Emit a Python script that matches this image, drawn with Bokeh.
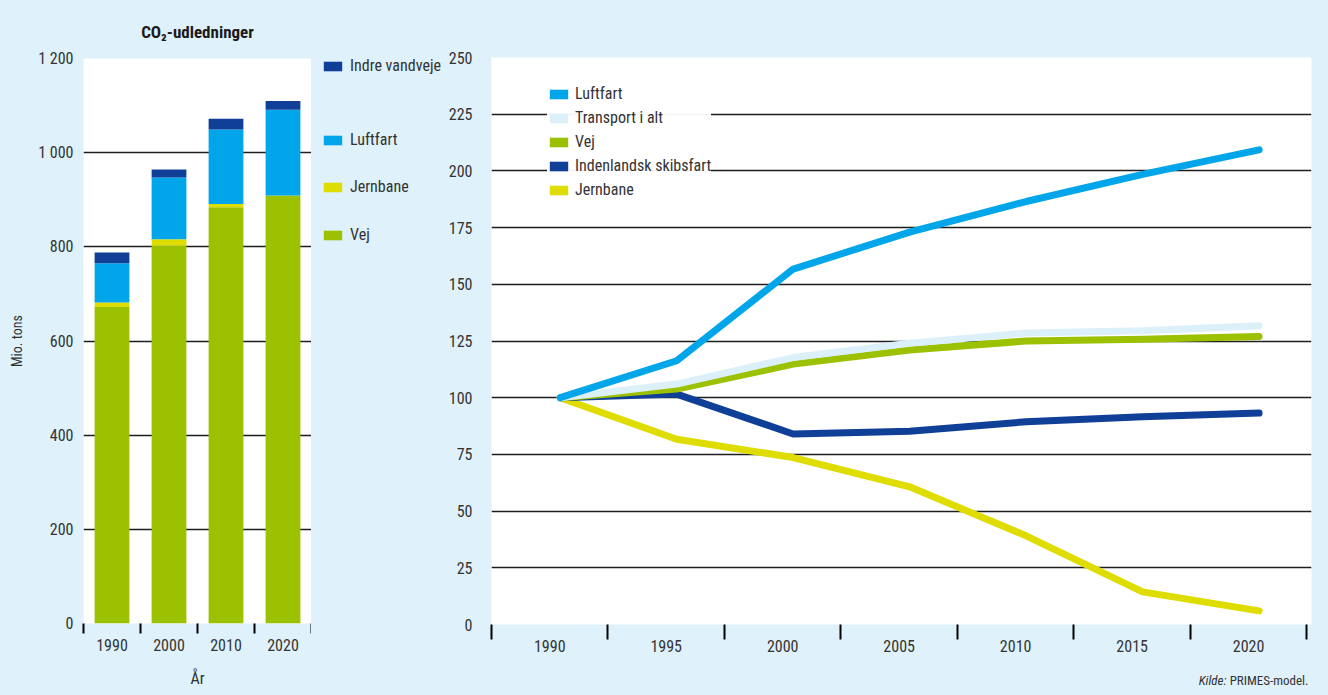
from bokeh.plotting import figure
from bokeh.models import (Range1d, FixedTicker, Legend, LegendItem, Label,
                          ColumnDataSource)
from bokeh.layouts import row, column
from bokeh.embed import file_html
from bokeh.resources import INLINE
from bokeh.transform import dodge

# ---------------- data ----------------
bar_years = [1990, 2000, 2010, 2020]
vej = [672, 803, 884, 909]
jernbane = [10, 13, 7, 0]
luftfart = [83, 131, 158, 182]
indre_vandveje = [23, 17, 23, 19]
bar_y_ticks = [0, 200, 400, 600, 800, 1000, 1200]
bar_y_labels = ["0", "200", "400", "600", "800", "1 000", "1 200"]
bar_grid_ticks = [200, 400, 600, 800, 1000]
bar_sep_ticks = [1985, 1995, 2005, 2015, 2025]

line_years = [1990, 1995, 2000, 2005, 2010, 2015, 2020]
idx_luftfart = [100, 116.3, 156.7, 173, 186.5, 198.5, 209.3]
idx_transport = [100, 106, 117.7, 124, 128.5, 129.5, 131.7]
idx_vej = [100, 103.8, 114.8, 121, 125, 125.8, 127]
idx_skibsfart = [100, 101.6, 84, 85.2, 89.4, 91.6, 93.2]
idx_jernbane = [100, 81.7, 73.6, 60.7, 39.1, 14.4, 6.0]
line_y_ticks = [0, 25, 50, 75, 100, 125, 150, 175, 200, 225, 250]
line_grid_ticks = [25, 50, 75, 100, 125, 150, 175, 200, 225]
line_sep_ticks = [1987.5, 1992.5, 1997.5, 2002.5, 2007.5, 2012.5, 2017.5, 2022.5]

# ---------------- style ----------------
BG = "#dff1fb"
FONT = "'Roboto Condensed', Roboto, sans-serif"
TXT = "#333333"
C_VEJ = "#9bc100"
C_JERN = "#dfdc00"
C_LUFT = "#00a6e9"
C_INDRE = "#0f3f96"
C_TRANS = "#dcf0fa"
GRID = "#1e1e1e"
NAN = float("nan")
H = 692
FRAME_BOTTOM = 623


def style_fig(p):
    p.border_fill_color = BG
    p.background_fill_color = "white"
    p.outline_line_color = None
    p.xgrid.grid_line_color = None
    p.ygrid.grid_line_color = GRID
    p.ygrid.grid_line_width = 1.6
    for ax in (p.xaxis[0], p.yaxis[0]):
        ax.axis_line_color = None
        ax.major_label_text_font = FONT
        ax.major_label_text_font_size = "16px"
        ax.major_label_text_color = TXT
        ax.axis_label_text_font = FONT
        ax.axis_label_text_font_style = "normal"
        ax.axis_label_text_color = TXT
    p.yaxis[0].major_tick_line_color = None
    p.yaxis[0].major_tick_in = 0
    p.yaxis[0].major_tick_out = 0
    p.yaxis[0].minor_tick_line_color = None
    p.xaxis[0].major_tick_line_color = None
    p.xaxis[0].major_tick_in = 0
    p.xaxis[0].minor_tick_line_color = "black"
    p.xaxis[0].minor_tick_line_width = 2
    p.xaxis[0].minor_tick_in = 0


def bare_fig(width, height):
    f = figure(width=width, height=height, x_range=Range1d(0, 1),
               y_range=Range1d(0, 1), output_backend="svg",
               toolbar_location=None, x_axis_location=None,
               y_axis_location=None, min_border=0)
    f.border_fill_color = BG
    f.background_fill_color = BG
    f.outline_line_color = None
    f.grid.visible = False
    f.frame_align = False
    return f


# ---------------- bar chart ----------------
bar_src = ColumnDataSource(dict(year=bar_years, vej=vej, jernbane=jernbane,
                                luftfart=luftfart, indre=indre_vandveje))

pb = figure(width=311, height=H, x_range=Range1d(1985, 2025),
            y_range=Range1d(0, 1200), output_backend="svg",
            toolbar_location=None, min_border_left=83, min_border_right=0,
            min_border_top=58, min_border_bottom=H - FRAME_BOTTOM)
style_fig(pb)
pb.title.text = "CO₂-udledninger"
pb.title.align = "center"
pb.title.text_font = FONT
pb.title.text_font_size = "17px"
pb.title.text_font_style = "bold"
pb.title.text_color = "#1a1a1a"
pb.title.standoff = 34

pb.vbar_stack(["vej", "jernbane", "luftfart", "indre"], x="year",
              width=6.1, color=[C_VEJ, C_JERN, C_LUFT, C_INDRE],
              line_color=None, source=bar_src)

pb.yaxis[0].ticker = FixedTicker(ticks=bar_y_ticks)
pb.yaxis[0].major_label_overrides = {t: l for t, l in zip(bar_y_ticks, bar_y_labels)}
pb.yaxis[0].major_label_standoff = 10
pb.yaxis[0].axis_label = "Mio. tons"
pb.yaxis[0].axis_label_text_font_size = "14px"
pb.yaxis[0].axis_label_standoff = 10
pb.ygrid[0].ticker = FixedTicker(ticks=bar_grid_ticks)

pb.xaxis[0].ticker = FixedTicker(ticks=bar_years, minor_ticks=bar_sep_ticks)
pb.xaxis[0].major_tick_out = 10
pb.xaxis[0].minor_tick_out = 10
pb.xaxis[0].major_label_standoff = 5
pb.xaxis[0].axis_label = "År"
pb.xaxis[0].axis_label_text_font_size = "16px"
pb.xaxis[0].axis_label_standoff = 15

# ---------------- bar legend panel ----------------
LEG_W = 134
pleg = bare_fig(LEG_W, H)
bar_legend_names = ["Vej", "Jernbane", "Luftfart", "Indre vandveje"]
bar_legend_colors = [C_VEJ, C_JERN, C_LUFT, C_INDRE]
bar_legend_top = [225, 177, 130, 56]
for name, c, top in zip(bar_legend_names, bar_legend_colors, bar_legend_top):
    sw = pleg.quad(left=[NAN], right=[NAN], top=[NAN], bottom=[NAN],
                   fill_color=c, line_color=None)
    lg = Legend(items=[LegendItem(label=name, renderers=[sw])],
                location=(10, H - top - 19), padding=0, margin=0,
                glyph_width=23, glyph_height=12, label_height=19,
                label_standoff=6, background_fill_alpha=0,
                border_line_color=None, label_text_font=FONT,
                label_text_font_size="16px", label_text_color=TXT)
    pleg.add_layout(lg)

# ---------------- line chart ----------------
line_src = ColumnDataSource(dict(year=line_years, luftfart=idx_luftfart,
                                 transport=idx_transport, vej=idx_vej,
                                 skibsfart=idx_skibsfart, jernbane=idx_jernbane))

PL_H = 666
PL_W = 880
pl = figure(width=PL_W, height=PL_H, x_range=Range1d(1987.5, 2022.7),
            y_range=Range1d(0, 250), output_backend="svg",
            toolbar_location=None, min_border_left=46, min_border_right=14,
            min_border_top=57, min_border_bottom=PL_H - 624)
style_fig(pl)
pl.yaxis[0].ticker = FixedTicker(ticks=line_y_ticks)
pl.yaxis[0].major_label_standoff = 19
pl.ygrid[0].ticker = FixedTicker(ticks=line_grid_ticks)
pl.xaxis[0].ticker = FixedTicker(ticks=line_years, minor_ticks=line_sep_ticks)
pl.xaxis[0].major_tick_out = 10
pl.xaxis[0].minor_tick_out = 15
pl.xaxis[0].major_label_standoff = 0

X_SHIFT = 0.45
series = [("jernbane", C_JERN), ("skibsfart", C_INDRE), ("vej", C_VEJ),
          ("transport", C_TRANS), ("luftfart", C_LUFT)]
for col, c in series:
    pl.line(x=dodge("year", X_SHIFT), y=col, source=line_src, line_color=c,
            line_width=7, line_cap="round", line_join="round")

swatch = {}
for col, c in series:
    swatch[col] = pl.quad(left=[NAN], right=[NAN], top=[NAN], bottom=[NAN],
                          fill_color=c, line_color=None)

line_legend = Legend(items=[
    LegendItem(label="Luftfart", renderers=[swatch["luftfart"]]),
    LegendItem(label="Transport i alt", renderers=[swatch["transport"]]),
    LegendItem(label="Vej", renderers=[swatch["vej"]]),
    LegendItem(label="Indenlandsk skibsfart", renderers=[swatch["skibsfart"]]),
    LegendItem(label="Jernbane", renderers=[swatch["jernbane"]]),
], location=(56, 425), padding=6, margin=0, spacing=5, glyph_width=23,
    glyph_height=12, label_height=19, label_standoff=5,
    background_fill_color="white", border_line_color=None,
    label_text_font=FONT, label_text_font_size="16px", label_text_color=TXT)
pl.add_layout(line_legend)

# ---------------- source note ----------------
KH = H - PL_H
pk = bare_fig(PL_W, KH)
X0 = 311 + LEG_W
pk.add_layout(Label(x=1226 - X0, y=KH - 14, x_units="screen", y_units="screen",
                    text="Kilde:", text_align="right", text_baseline="middle",
                    text_font=FONT, text_font_size="13px",
                    text_font_style="italic", text_color=TXT))
pk.add_layout(Label(x=1308 - X0, y=KH - 14, x_units="screen", y_units="screen",
                    text="PRIMES-model.", text_align="right",
                    text_baseline="middle", text_font=FONT,
                    text_font_size="13px", text_color=TXT))

layout = row(pb, pleg, column(pl, pk))
html = file_html(layout, INLINE)
html = html.replace("</head>",
                    "<style>html, body { background-color: %s !important; }</style></head>" % BG, 1)
open("out.html", "w").write(html)
